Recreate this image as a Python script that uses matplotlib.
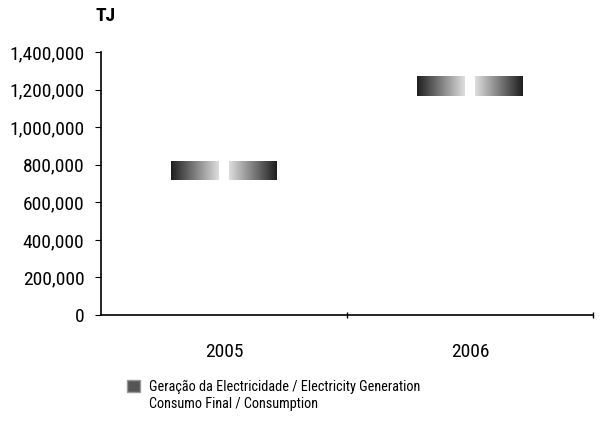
import numpy as np
import matplotlib
matplotlib.use("Agg")
import matplotlib.pyplot as plt
from matplotlib.patches import Patch
from matplotlib.ticker import FuncFormatter, FixedLocator

years = ["2005", "2006"]
generation = [770000, 1220000]
consumption = [770000, 1220000]
series_labels = ["Geração da Electricidade / Electricity Generation",
                 "Consumo Final / Consumption"]
yticks = [0, 200000, 400000, 600000, 800000, 1000000, 1200000, 1400000]
unit = "TJ"

plt.rcParams['font.family'] = ['Roboto Condensed', 'DejaVu Sans']

fig = plt.figure(figsize=(6.07, 4.24), dpi=100)
ax = fig.add_axes([0.1664, 0.257, 0.8106, 0.62])

x = np.arange(len(years))
width = 0.195
offset = 0.118
thick = 105000

gen_bars = ax.bar(x - offset, [thick] * len(x), width,
                  bottom=np.array(generation) - thick / 2, color='none', edgecolor='none')
con_bars = ax.bar(x + offset, [thick] * len(x), width,
                  bottom=np.array(consumption) - thick / 2, color='none', edgecolor='none')

grad = np.linspace(0, 1, 256).reshape(1, -1)
for bars, reverse in ((gen_bars, False), (con_bars, True)):
    for b in bars:
        x0, y0 = b.get_x(), b.get_y()
        w, h = b.get_width(), b.get_height()
        g = grad[:, ::-1] if reverse else grad
        im = ax.imshow(0.12 + 0.75 * g, cmap='gray', vmin=0, vmax=1,
                       extent=[x0, x0 + w, y0, y0 + h], aspect='auto', zorder=3)
        im.set_clip_path(b)

ax.set_xlim(-0.5, len(years) - 0.5)
ax.set_ylim(0, 1400000)
ax.set_yticks(yticks)
ax.yaxis.set_major_formatter(FuncFormatter(lambda v, p: f"{int(v):,}"))
ax.set_xticks(x)
ax.set_xticklabels(years)
ax.xaxis.set_minor_locator(FixedLocator([0.5, 1.5]))
ax.tick_params(axis='x', which='major', length=0, pad=20, labelsize=14)
ax.tick_params(axis='x', which='minor', length=5, direction='inout', width=1)
ax.tick_params(axis='y', length=4, direction='out', labelsize=14, pad=8)

for s in ['top', 'right']:
    ax.spines[s].set_visible(False)
ax.spines['left'].set_linewidth(1.2)
ax.spines['bottom'].set_linewidth(1.2)

fig.text(0.158, 0.962, unit, fontsize=14, fontweight='bold', ha='left', va='center')

handles = [Patch(facecolor='#555555', edgecolor='#999999'),
           Patch(facecolor='white', edgecolor='white')]
fig.legend(handles, series_labels, loc='upper left', bbox_to_anchor=(0.2, 0.118),
           frameon=False, fontsize=10.3, handlelength=0.9, handleheight=0.9,
           handletextpad=0.6, labelspacing=0.2, borderaxespad=0)

fig.savefig("out.png", dpi=100)
